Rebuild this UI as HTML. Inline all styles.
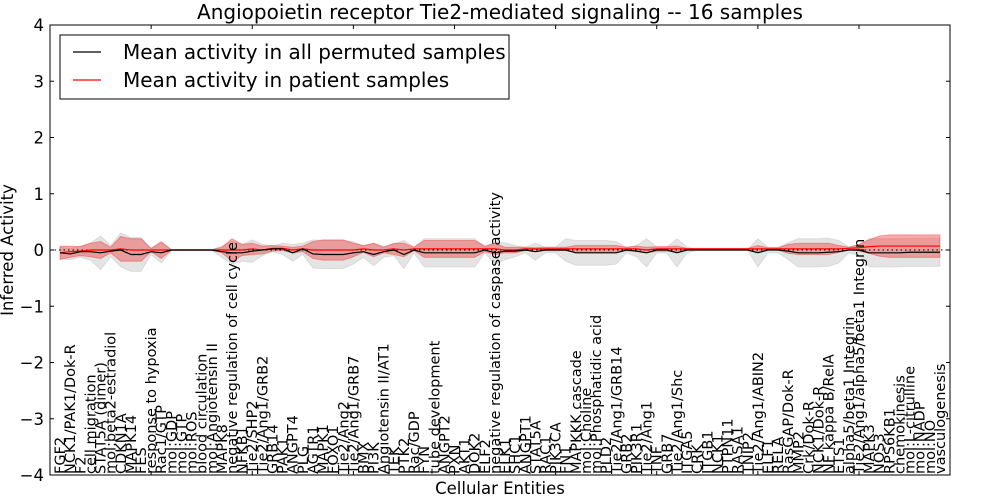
<!DOCTYPE html>
<html><head><meta charset="utf-8"><style>
html,body{margin:0;padding:0;background:#fff;}
svg{display:block;font-family:"DejaVu Sans","Liberation Sans",sans-serif;}
</style></head><body>
<svg id="chart" width="1000" height="500" viewBox="0 0 1000 500" xmlns="http://www.w3.org/2000/svg">
<rect x="0" y="0" width="1000" height="500" fill="#fff"/>
<text x="500" y="19" text-anchor="middle" font-size="20">Angiopoietin receptor Tie2-mediated signaling -- 16 samples</text>
<g id="plot"></g>
<text x="500" y="494" text-anchor="middle" font-size="16.5">Cellular Entities</text>
<text transform="translate(13,250) rotate(-90)" text-anchor="middle" font-size="16.5">Inferred Activity</text>
</svg>
<script>
const categories = ["FGF2","NCK1/PAK1/Dok-R","F2","cell migration","STAT5A (dimer)","mol:beta2-estradiol","CDKN1A","MAPK14","FES","response to hypoxia","Rac1/GTP","mol:GDP","mol:GTP","mol:ROS","blood circulation","mol:Angiotensin II","MAPK8","negative regulation of cell cycle","NFKB1","Tie2/SHP2","Tie2/Ang1/GRB2","GRB14","PAK1","ANGPT4","PLG","AGTR1","MAPK1","FOXO1","Tie2/Ang2","Tie2/Ang1/GRB7","BMX","PI3K","Angiotensin II/AT1","TEK","PTK2","Rac/GDP","FYN","tube development","ANGPT2","PXN","AKT1","DOK2","ELF2","negative regulation of caspase activity","ELK1","SHC1","ANGPT1","STAT5A","RAC1","PIK3CA","FN1","MAPKKK cascade","mol:Choline","mol:Phosphatidic acid","PLD2","Tie2/Ang1/GRB14","GRB2","PIK3R1","Tie2/Ang1","TNF","GRB7","Tie2/Ang1/Shc","ITGA5","CRK","ITGB1","NCK1","PTPN11","RASA1","TNIP2","Tie2/Ang1/ABIN2","ELF1","RELA","RasGAP/Dok-R","MMP2","Crk/Dok-R","NCK1/Dok-R","NF kappa B/RelA","ETS1","alpha5/beta1 Integrin","Tie2/Ang1/alpha5/beta1 Integrin","MAPK3","NOS3","RPS6KB1","chemokinesis","mol:L-citrulline","mol:NADP","mol:NO","vasculogenesis"];
const permMean = [-0.05,-0.07,-0.03,-0.03,-0.05,-0.02,0,-0.08,-0.08,-0.03,-0.05,0,0,0,0,0,-0.03,-0.05,-0.05,-0.02,0,0.02,0.02,-0.05,0.02,-0.07,-0.08,-0.08,-0.08,-0.05,-0.03,-0.08,-0.03,0,-0.08,0,-0.05,-0.05,-0.05,-0.05,-0.05,-0.05,0,-0.05,-0.02,-0.02,0,-0.03,0,0,0,-0.05,-0.05,-0.05,-0.05,-0.05,0,-0.02,-0.05,0,0,-0.05,0,0,0,0,0,0,0,-0.05,0,0,-0.02,-0.05,-0.05,-0.05,-0.04,-0.03,0,0,-0.05,-0.05,-0.05,-0.05,-0.04,-0.04,-0.04,-0.04];
const permHalf = [0.1,0.1,0.1,0.15,0.3,0.1,0.3,0.3,0.3,0.05,0.18,0.01,0.01,0.01,0.01,0.01,0.1,0.2,0.15,0.2,0.1,0.05,0.1,0.15,0.1,0.25,0.25,0.25,0.25,0.2,0.1,0.2,0.1,0.1,0.25,0.05,0.25,0.25,0.25,0.25,0.25,0.25,0.05,0.2,0.15,0.1,0.05,0.15,0.05,0.05,0.2,0.22,0.22,0.22,0.22,0.2,0.05,0.1,0.25,0.05,0.05,0.25,0.05,0.01,0.01,0.01,0.01,0.01,0.01,0.25,0.05,0.05,0.15,0.25,0.25,0.25,0.25,0.2,0.05,0.1,0.25,0.25,0.25,0.25,0.25,0.25,0.25,0.25];
const patientMean = [-0.05,-0.03,-0.02,0,0,0,0.02,0,0,0,0,0,0,0,0,0,0,0,0,0.02,0,0.03,0.03,0,0.02,0,0,0,0,0,0.02,0,0,0.02,0,0.02,0.02,0.02,0.02,0.02,0.02,0.02,0.02,0.02,0,0,0.02,0.02,0.02,0.02,0.02,0.02,0.02,0.02,0.02,0.02,0.02,0.02,0,0.02,0.02,0.02,0.02,0.02,0.02,0.02,0.02,0.02,0.02,0.02,0.02,0.02,0.02,0.02,0.02,0.02,0.02,0.02,0.03,0.04,0.06,0.07,0.07,0.07,0.07,0.07,0.07,0.07];
const patientHalf = [0.12,0.1,0.08,0.12,0.15,0.05,0.22,0.2,0.2,0.03,0.15,0.005,0.005,0.005,0.005,0.005,0.05,0.2,0.1,0.1,0.07,0.05,0.04,0.05,0.05,0.15,0.18,0.18,0.18,0.12,0.06,0.12,0.05,0.1,0.12,0.03,0.15,0.15,0.15,0.15,0.15,0.15,0.05,0.1,0.05,0.05,0.03,0.02,0.03,0.03,0.03,0.06,0.06,0.06,0.06,0.06,0.03,0.05,0.05,0.04,0.04,0.05,0.01,0.01,0.01,0.01,0.01,0.01,0.01,0.06,0.02,0.02,0.08,0.1,0.1,0.1,0.1,0.06,0.02,0.06,0.12,0.18,0.2,0.2,0.2,0.2,0.2,0.2];
const yTicks = [-4,-3,-2,-1,0,1,2,3,4];
const xTicks = [10,20,30,40,50,60,70,80];

const NS="http://www.w3.org/2000/svg";
const L=50,R=950,T=25,B=475;
const xs = v => L + (v)/(categories.length+1)*(R-L);
const ys = v => T + (4 - v)/8*(B-T);
const plot=document.getElementById('plot');
function mk(tag,attrs){const e=document.createElementNS(NS,tag);for(const k in attrs)e.setAttribute(k,attrs[k]);plot.appendChild(e);return e;}
function band(mean,half,fill,op){
  let up=[],dn=[];
  for(let i=0;i<mean.length;i++){up.push(xs(i+1)+","+ys(mean[i]+half[i]));dn.unshift(xs(i+1)+","+ys(mean[i]-half[i]));}
  return mk('polygon',{points:up.concat(dn).join(' '),fill:fill,'fill-opacity':op,stroke:fill,'stroke-opacity':op,'stroke-width':1});
}
function line(mean,col){
  const pts=mean.map((v,i)=>xs(i+1)+","+ys(v)).join(' ');
  return mk('polyline',{points:pts,fill:'none',stroke:col,'stroke-width':1.2});
}
const g1=band(permMean,permHalf,'#bbbbbb',0.4);


const g2=band(patientMean,patientHalf,'#f03030',0.4);


const zl=mk('line',{x1:L,x2:R,y1:ys(0),y2:ys(0),stroke:'#000','stroke-dasharray':'1.5,3','stroke-width':1});


const l2=line(patientMean,'#ff0000');


const l1=line(permMean,'#000000');


categories.forEach((c,i)=>{
  const x=xs(i+1);
  const t=mk('text',{transform:`translate(${x+5},474) rotate(-90)`,'font-size':14.5});
  t.textContent=c;
  
  
});
yTicks.forEach(v=>{
  const y=ys(v);
  const tk=mk('line',{x1:L,x2:L+4,y1:y,y2:y,stroke:'#000'});
  
  
  const tk2=mk('line',{x1:R-4,x2:R,y1:y,y2:y,stroke:'#000'});
  
  
  const t=mk('text',{x:L-6,y:y+6,'text-anchor':'end','font-size':16.5});
  t.textContent=(v<0?'\u2212':'')+Math.abs(v);
  
  
});
xTicks.forEach(v=>{
  const x=xs(v);
  const a=mk('line',{x1:x,x2:x,y1:T,y2:T+4,stroke:'#000'});
  
  
  const b=mk('line',{x1:x,x2:x,y1:B-4,y2:B,stroke:'#000'});
  
  
});
const fr=mk('rect',{x:L,y:T,width:R-L,height:B-T,fill:'none',stroke:'#000','stroke-width':1});


const lg=mk('rect',{x:60,y:35,width:449,height:64,fill:'#fff',stroke:'#000','stroke-width':1});


[['#000','Mean activity in all permuted samples',52],['#ff0000','Mean activity in patient samples',80]].forEach(([c,s,y],k)=>{
  const ln=mk('line',{x1:73,x2:101,y1:y,y2:y,stroke:c,'stroke-width':1.2});
  
  
  const t=mk('text',{x:123,y:y+7,'font-size':20});
  t.textContent=s;
  
  
});
</script>
</body></html>
